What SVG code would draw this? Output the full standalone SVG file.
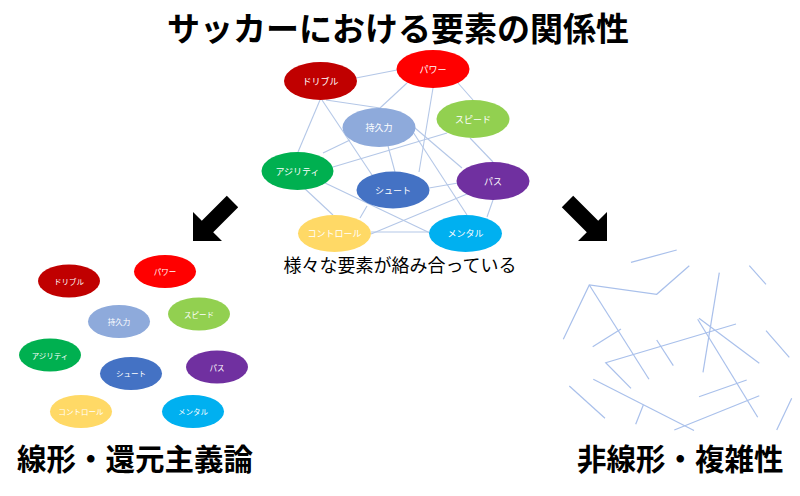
<svg xmlns="http://www.w3.org/2000/svg" width="800" height="496" viewBox="0 0 800 496">
<style>
text{font-family:"Noto Sans CJK JP","Noto Sans CJK SC",sans-serif}
.lbl{fill:#fff;font-size:9px;text-anchor:middle;dominant-baseline:central}
.lbs{fill:#fff;font-size:7.5px;text-anchor:middle;dominant-baseline:central}
.ln line,.ln polyline{stroke:#b4c7e7;stroke-width:1.1;fill:none}
.rl line,.rl polyline{stroke:#a9c0eb;stroke-width:1.2;fill:none}
.big{font-weight:bold;fill:#000}
</style>
<rect width="800" height="496" fill="#fff"/>
<text class="big" x="398" y="41" font-size="33" text-anchor="middle">サッカーにおける要素の関係性</text>

<g id="connectors" class="ln">
<line x1="356" y1="78" x2="397" y2="70"/>
<line x1="407" y1="83" x2="380" y2="108"/>
<line x1="433" y1="88" x2="419" y2="172"/>
<line x1="458" y1="83" x2="473" y2="100"/>
<line x1="320" y1="100" x2="298" y2="152"/>
<line x1="322" y1="100" x2="372" y2="175"/>
<line x1="326" y1="100" x2="380" y2="108"/>
<line x1="350" y1="140" x2="323" y2="153"/>
<line x1="333" y1="167" x2="447" y2="133"/>
<line x1="323" y1="182" x2="430" y2="233"/>
<line x1="303" y1="187" x2="333" y2="215"/>
<line x1="367" y1="206" x2="360" y2="218"/>
<line x1="371" y1="232" x2="429" y2="232"/>
<line x1="371" y1="234" x2="467" y2="194"/>
<line x1="429" y1="188" x2="458" y2="183"/>
<line x1="493" y1="200" x2="487" y2="217"/>
<line x1="415" y1="128" x2="462" y2="168"/>
<line x1="413" y1="132" x2="467" y2="215"/>
<line x1="470" y1="138" x2="493" y2="162"/>
<line x1="388" y1="146" x2="395" y2="172"/>
</g>

<g id="top-dribble"><ellipse cx="320.5" cy="81" rx="36.5" ry="19" fill="#c00000"/><text class="lbl" x="320.5" y="81">ドリブル</text></g>
<g id="top-power"><ellipse cx="433" cy="69" rx="36.5" ry="19" fill="#ff0000"/><text class="lbl" x="433" y="69">パワー</text></g>
<g id="top-speed"><ellipse cx="473" cy="119" rx="36.5" ry="19" fill="#92d050"/><text class="lbl" x="473" y="119">スピード</text></g>
<g id="top-stamina"><ellipse cx="379" cy="127.5" rx="36.5" ry="19.5" fill="#8eaadb"/><text class="lbl" x="379" y="127.5">持久力</text></g>
<g id="top-agility"><ellipse cx="297.5" cy="171" rx="36" ry="19" fill="#00b050"/><text class="lbl" x="297.5" y="171">アジリティ</text></g>
<g id="top-shoot"><ellipse cx="393" cy="190" rx="36.5" ry="18.5" fill="#4472c4"/><text class="lbl" x="393" y="190">シュート</text></g>
<g id="top-pass"><ellipse cx="493" cy="181" rx="36.5" ry="19" fill="#7030a0"/><text class="lbl" x="493" y="181">パス</text></g>
<g id="top-control"><ellipse cx="334.5" cy="233.5" rx="36.5" ry="18.5" fill="#ffd966"/><text class="lbl" x="334.5" y="233.5" font-size="7">コントロール</text></g>
<g id="top-mental"><ellipse cx="465.5" cy="233.5" rx="36.5" ry="18.5" fill="#00b0f0"/><text class="lbl" x="465.5" y="233.5">メンタル</text></g>

<text x="400" y="272" font-size="18" text-anchor="middle" fill="#000">様々な要素が絡み合っている</text>

<g id="arrow-left"><polygon points="193,241 193,212 201.8,220.8 226.8,195.8 238.2,207.2 213.2,232.2 222,241" fill="#000"/></g>
<g id="arrow-right"><polygon points="607,241 607,212 598.2,220.8 573.2,195.8 561.8,207.2 586.8,232.2 578,241" fill="#000"/></g>

<g id="left-dribble"><ellipse cx="69" cy="281" rx="31" ry="16.5" fill="#c00000"/><text class="lbs" x="69" y="281">ドリブル</text></g>
<g id="left-power"><ellipse cx="165" cy="271.5" rx="31" ry="16.5" fill="#ff0000"/><text class="lbs" x="165" y="271.5">パワー</text></g>
<g id="left-stamina"><ellipse cx="119" cy="321.5" rx="31" ry="16.5" fill="#8eaadb"/><text class="lbs" x="119" y="321.5">持久力</text></g>
<g id="left-speed"><ellipse cx="199" cy="314" rx="31" ry="16.5" fill="#92d050"/><text class="lbs" x="199" y="314">スピード</text></g>
<g id="left-agility"><ellipse cx="50" cy="355" rx="31" ry="16.5" fill="#00b050"/><text class="lbs" x="50" y="355">アジリティ</text></g>
<g id="left-shoot"><ellipse cx="131" cy="373.5" rx="31" ry="16.5" fill="#4472c4"/><text class="lbs" x="131" y="373.5">シュート</text></g>
<g id="left-pass"><ellipse cx="217" cy="367" rx="31" ry="16.5" fill="#7030a0"/><text class="lbs" x="217" y="367">パス</text></g>
<g id="left-control"><ellipse cx="81" cy="411.5" rx="31" ry="16.5" fill="#ffd966"/><text class="lbs" x="81" y="411.5">コントロール</text></g>
<g id="left-mental"><ellipse cx="193" cy="411.5" rx="31" ry="16.5" fill="#00b0f0"/><text class="lbs" x="193" y="411.5">メンタル</text></g>

<g id="scattered-lines" class="rl">
<line x1="631" y1="262.3" x2="676.7" y2="250"/>
<polyline points="563.3,339.3 589.3,285 656.7,294.3 689.3,265.7"/>
<line x1="589.3" y1="285" x2="649" y2="379.3"/>
<line x1="719.3" y1="272.7" x2="703" y2="372.3"/>
<line x1="749.3" y1="265.7" x2="766" y2="284.3"/>
<line x1="699" y1="318.3" x2="759.3" y2="363.3"/>
<line x1="697.7" y1="319.3" x2="757.7" y2="417.3"/>
<line x1="592.7" y1="346.7" x2="621" y2="329"/>
<polyline points="631,388.3 605.7,362.7 736,324"/>
<line x1="656.7" y1="340" x2="673.3" y2="365.7"/>
<line x1="766" y1="330.7" x2="789.3" y2="357.3"/>
<line x1="699" y1="396.7" x2="746.7" y2="380"/>
<line x1="569.3" y1="386" x2="605" y2="418.3"/>
<line x1="593.3" y1="379.3" x2="694" y2="430.5"/>
<line x1="643.3" y1="405" x2="635.7" y2="424.3"/>
<line x1="674.3" y1="430" x2="759.3" y2="395.7"/>
<line x1="791.7" y1="398.3" x2="776.7" y2="430"/>
</g>

<text class="big" x="17" y="470" font-size="29.5">線形・還元主義論</text>
<text class="big" x="577" y="470" font-size="29.5">非線形・複雑性</text>
</svg>
